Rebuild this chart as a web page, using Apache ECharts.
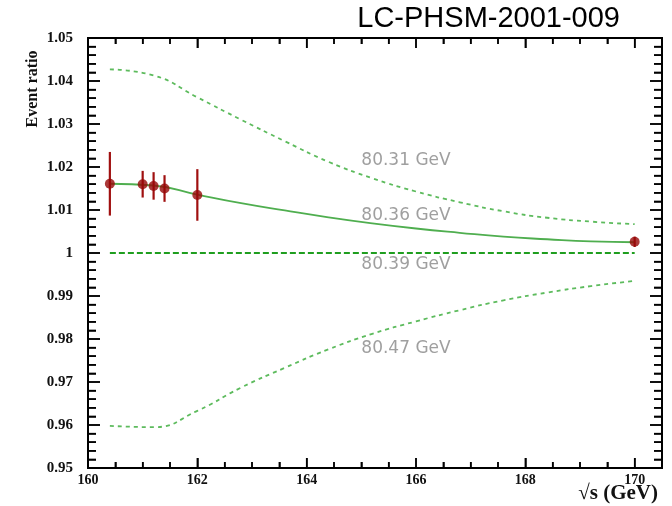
<!DOCTYPE html>
<html><head><meta charset="utf-8">
<script src="https://cdn.jsdelivr.net/npm/echarts@6/dist/echarts.min.js"></script>
<style>html,body{margin:0;padding:0;background:#fff}#c{width:672px;height:506px}</style>
</head><body><div id="c"></div>
<script>
// Theory curves (sqrt(s) in GeV, event ratio) for four W masses
const curveX    = [160.4, 161.2, 162.0, 162.8, 163.6, 164.4, 165.2, 166.0, 166.8, 167.6, 168.4, 169.2, 170.0];
const curve8031 = [1.0427, 1.0413, 1.0362, 1.0310, 1.0260, 1.0212, 1.0174, 1.0143, 1.0118, 1.0097, 1.0082, 1.0073, 1.0067];
const curve8036 = [1.0161, 1.0157, 1.0136, 1.0116, 1.0099, 1.0083, 1.0069, 1.0057, 1.0047, 1.0038, 1.0032, 1.0027, 1.0025];
const curve8039 = [1.0000, 1.0000, 1.0000, 1.0000, 1.0000, 1.0000, 1.0000, 1.0000, 1.0000, 1.0000, 1.0000, 1.0000, 1.0000];
const curve8047 = [0.9598, 0.9595, 0.9633, 0.9687, 0.9733, 0.9776, 0.9812, 0.9841, 0.9867, 0.9890, 0.9908, 0.9923, 0.9935];
// Simulated measurements
const pointX   = [160.4, 161.0, 161.2, 161.4, 162.0, 170.0];
const pointY   = [1.0161, 1.0160, 1.0156, 1.0150, 1.0135, 1.0026];
const pointErr = [0.0074, 0.0031, 0.0032, 0.0031, 0.0060, 0.0012];
// Curve annotations
const massLabels = ['80.31 GeV', '80.36 GeV', '80.39 GeV', '80.47 GeV'];
const labelX = [165.0, 165.0, 165.0, 165.0];
const labelY = [1.0216, 1.0086, 0.9974, 0.9777];
const xTickLabels = [160, 162, 164, 166, 168, 170];
const X_MIN = 160, X_MAX = 170.5, Y_MIN = 0.95, Y_MAX = 1.05;

// Frame tick marks (value, axis kind 0=x 1=y, major flag)
const frameTicks = [];
for (let i = 1; i < 21; i++) frameTicks.push([X_MIN + i * 0.5, 0, i % 4 === 0 ? 1 : 0]);
for (let j = 1; j < 50; j++) frameTicks.push([Math.round((Y_MIN + j * 0.002) * 1000) / 1000, 1, j % 5 === 0 ? 1 : 0]);

const chart = echarts.init(document.getElementById('c'));
const serif = '"Liberation Serif", "DejaVu Serif", serif';
function xAx(pos, interval, len, labels) {
  return {
    type: 'value', position: pos, min: X_MIN, max: X_MAX, interval: interval,
    axisLine: {show: true, onZero: false, lineStyle: {color: '#000', width: 2}},
    axisTick: {show: true, inside: true, length: len, lineStyle: {color: '#000', width: 1.5}},
    axisLabel: labels ? {show: true, margin: 5, color: '#111', fontFamily: serif, fontWeight: 'bold', fontSize: 14,
      formatter: v => xTickLabels.indexOf(Math.round(v * 1000) / 1000) >= 0 ? String(v) : ''} : {show: false},
    splitLine: {show: false}
  };
}
function yAx(pos, interval, len, labels) {
  return {
    type: 'value', position: pos, min: Y_MIN, max: Y_MAX, interval: interval,
    axisLine: {show: true, onZero: false, lineStyle: {color: '#000', width: 2}},
    axisTick: {show: true, inside: true, length: len, lineStyle: {color: '#000', width: 1.5}},
    axisLabel: labels ? {show: true, margin: 15, color: '#111', fontFamily: serif, fontWeight: 'bold', fontSize: 15,
      formatter: v => String(Math.round(v * 100) / 100)} : {show: false},
    splitLine: {show: false}
  };
}
const toPairs = ys => curveX.map((x, i) => [x, ys[i]]);

function tickLines(api) {
  const out = [];
  frameTicks.forEach(t => {
    const v = t[0], kind = t[1], major = t[2];
    if (kind === 0) {
      const b = api.coord([v, Y_MIN]), tp = api.coord([v, Y_MAX]);
      const len = major ? 10 : 6;
      out.push({type: 'line', shape: {x1: b[0], y1: b[1], x2: b[0], y2: b[1] - len}, style: {stroke: '#000', lineWidth: 1.5}});
      out.push({type: 'line', shape: {x1: tp[0], y1: tp[1], x2: tp[0], y2: tp[1] + len}, style: {stroke: '#000', lineWidth: 1.5}});
    } else {
      const l = api.coord([X_MIN, v]), r = api.coord([X_MAX, v]);
      const len = major ? 12 : 8;
      out.push({type: 'line', shape: {x1: l[0], y1: l[1], x2: l[0] + len, y2: l[1]}, style: {stroke: '#000', lineWidth: 1.5}});
      out.push({type: 'line', shape: {x1: r[0], y1: r[1], x2: r[0] - len, y2: r[1]}, style: {stroke: '#000', lineWidth: 1.5}});
    }
  });
  return out;
}

const option = {
  animation: false,
  grid: {left: 88, right: 10, top: 38, bottom: 38},
  xAxis: [xAx('bottom', 2, 10, true), xAx('bottom', 0.5, 6, false), xAx('top', 2, 10, false), xAx('top', 0.5, 6, false)],
  yAxis: [yAx('left', 0.01, 12, true), yAx('left', 0.002, 8, false), yAx('right', 0.01, 12, false), yAx('right', 0.002, 8, false)],
  series: [
    {type: 'line', data: toPairs(curve8031), smooth: true, symbol: 'none', lineStyle: {color: '#5dbb5d', width: 1.8, type: [4, 4]}, z: 2},
    {type: 'line', data: toPairs(curve8047), smooth: true, symbol: 'none', lineStyle: {color: '#5dbb5d', width: 1.8, type: [4, 4]}, z: 2},
    {type: 'line', data: toPairs(curve8039), symbol: 'none', lineStyle: {color: '#1f9e1f', width: 2, type: [6, 3]}, z: 2},
    {type: 'line', data: toPairs(curve8036), smooth: true, symbol: 'none', lineStyle: {color: '#4fae4f', width: 1.8}, z: 3},
    {type: 'custom', z: 4, clip: false,
      data: pointX.map((x, i) => [x, pointY[i], pointErr[i]]),
      renderItem: (params, api) => {
        const x = api.value(0), y = api.value(1), e = api.value(2);
        const top = api.coord([x, y + e]), bot = api.coord([x, y - e]);
        const children = [{type: 'line', shape: {x1: top[0], y1: top[1], x2: bot[0], y2: bot[1]},
          style: {stroke: '#a01010', lineWidth: 2.2}}];
        if (params.dataIndex === 0) tickLines(api).forEach(c => children.push(c));
        return {type: 'group', children: children};
      }},
    {type: 'scatter', z: 5, data: pointX.map((x, i) => [x, pointY[i]]), symbol: 'circle', symbolSize: 10,
      itemStyle: {color: '#960808'}},
    {type: 'scatter', z: 6, silent: true, symbolSize: 0,
      data: massLabels.map((t, i) => [labelX[i], labelY[i]]),
      label: {show: true, position: 'right', distance: 0, formatter: p => massLabels[p.dataIndex],
        color: '#878787', fontFamily: '"DejaVu Sans", sans-serif', fontSize: 17}}
  ],
  graphic: [
    {type: 'text', x: 620, y: 19, style: {text: 'LC-PHSM-2001-009', fill: '#000',
      font: '29px "Liberation Sans", Arial, sans-serif', textAlign: 'right', textVerticalAlign: 'middle'}},
    {type: 'text', x: 33, y: 89, rotation: Math.PI / 2, style: {text: 'Event ratio', fill: '#111',
      font: 'bold 16px "Liberation Serif", serif', textAlign: 'center', textVerticalAlign: 'middle'}},
    {type: 'text', x: 658, y: 494, style: {text: '\u221As (GeV)', fill: '#111',
      font: 'bold 21px "Liberation Serif", serif', textAlign: 'right', textVerticalAlign: 'middle'}}
  ]
};
chart.setOption(option);
</script></body></html>
